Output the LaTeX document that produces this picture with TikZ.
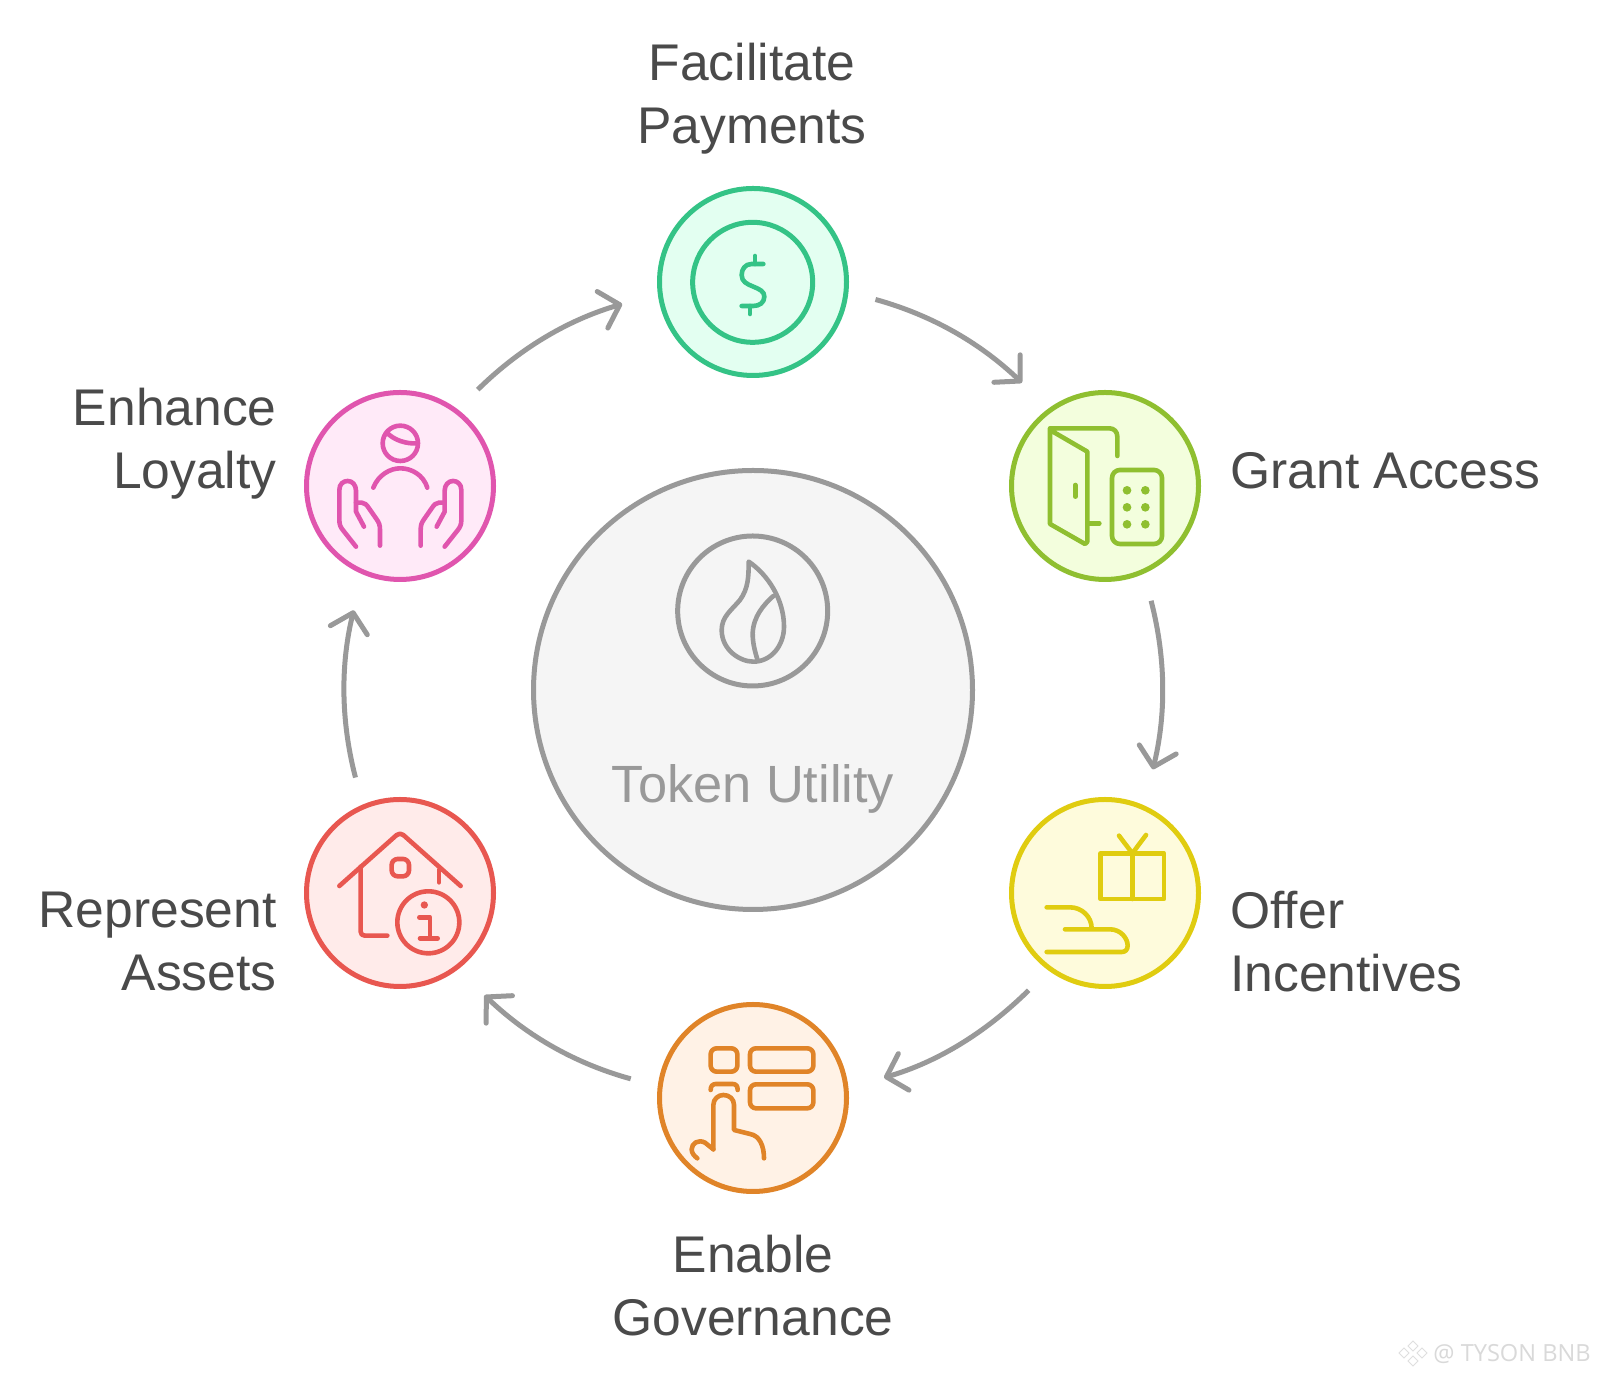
\documentclass[tikz,border=0pt]{standalone}
\usepackage{fontspec}
\setmainfont{Liberation Sans}
\newfontfamily\wmfont{Open Sans}
\usetikzlibrary{arrows.meta}
\definecolor{gS}{HTML}{34C386}\definecolor{gF}{HTML}{E3FFF1}
\definecolor{lS}{HTML}{8FBF30}\definecolor{lF}{HTML}{F3FEDD}
\definecolor{yS}{HTML}{E0CC10}\definecolor{yF}{HTML}{FEFBDC}
\definecolor{oS}{HTML}{E08428}\definecolor{oF}{HTML}{FFF2E6}
\definecolor{rS}{HTML}{E85750}\definecolor{rF}{HTML}{FFEBEA}
\definecolor{pS}{HTML}{E055AE}\definecolor{pF}{HTML}{FFEAF8}
\definecolor{hS}{HTML}{999999}\definecolor{hF}{HTML}{F5F5F5}
\definecolor{txt}{HTML}{4A4A4A}
\tikzset{
  unit/.style={x=0.5pt,y=0.5pt},
  stage/.style={circle,draw=#1S,fill=#1F,line width=2.5pt,minimum size=93.5pt,inner sep=0pt},
  hubnode/.style={circle,draw=hS,fill=hF,line width=2.5pt,minimum size=219.5pt,inner sep=0pt},
  flow/.style={draw=hS,line width=2.5pt,-{Straight Barb[length=9pt,width=19pt,round]},looseness=1,shorten <=14pt,shorten >=18.5pt},
  lab/.style={text=txt,font=\fontsize{25.8}{31.5}\selectfont,inner sep=0pt},
  icon/.style={draw=#1,line width=2.3pt,line cap=round,line join=round},
}
\begin{document}
\begin{tikzpicture}[unit]
\useasboundingbox (0,0) rectangle (1600,1380);
\fill[white] (0,0) rectangle (1600,1380);

% hub and stages
\node[hubnode] (hub) at (753,690) {};
\node[stage=g] (facil) at (753,1098) {};
\node[stage=l] (grant) at (1105,894) {};
\node[stage=y] (offer) at (1105,487) {};
\node[stage=o] (enable) at (753,282) {};
\node[stage=r] (repr) at (400,487) {};
\node[stage=p] (enh) at (400,894) {};

% connectors
\draw[flow] (facil.-6.75) to[out=-15.45,in=136.25] (grant.126.75);
\draw[flow] (grant.-66.75) to[out=-75.45,in=76.25] (offer.66.75);
\draw[flow] (offer.-126.75) to[out=-135.45,in=16.25] (enable.6.75);
\draw[flow] (enable.173.25) to[out=164.55,in=-43.75] (repr.-53.25);
\draw[flow] (repr.113.25) to[out=104.55,in=-103.75] (enh.-113.25);
\draw[flow] (enh.53.25) to[out=44.55,in=-163.75] (facil.-173.25);

% labels
\node[lab,align=center] (lfacil) at (752,1281) {Facilitate\\Payments};
\node[lab,align=left,anchor=west] (lgrant) at (1230,909) {Grant Access};
\node[lab,align=left,anchor=west] (loffer) at (1230,438) {Offer\\Incentives};
\node[lab,align=center] (lenable) at (753,94) {Enable\\Governance};
\node[lab,align=right,anchor=east] (lrepr) at (277,438) {Represent\\Assets};
\node[lab,align=right,anchor=east] (lenh) at (277,936) {Enhance\\Loyalty};
\node[lab,text=hS,font=\fontsize{26.2}{31.5}\selectfont] (lhub) at (753,591) {Token Utility};

% hub icon
\begin{scope}[shift={(640,870)},xscale=1/3,yscale=-1/3]
  \draw[icon=hS,line width=2.5pt] (338,303) circle[radius=225];
  \draw[icon=hS] (326,155) .. controls (326,200) and (325,235) .. (300,270)
    .. controls (275,300) and (245,320) .. (245,360)
    .. controls (245,420) and (300,455) .. (340,455)
    .. controls (395,455) and (432,405) .. (432,350)
    .. controls (432,270) and (385,195) .. (326,155) -- cycle;
  \draw[icon=hS] (400,258) .. controls (370,285) and (340,320) .. (338,370)
    .. controls (338,400) and (345,425) .. (352,448);
\end{scope}

% dollar icon
\begin{scope}[shift={(640,1210)},xscale=1/3,yscale=-1/3]
  \draw[icon=gS,line width=2.5pt] (338,337) circle[radius=180];
  \draw[icon=gS] (370,282) -- (335,282) .. controls (315,282) and (305,298) .. (305,315)
    .. controls (305,335) and (320,342) .. (340,350)
    .. controls (360,358) and (373,365) .. (373,380)
    .. controls (373,398) and (358,408) .. (340,408) -- (305,408);
  \draw[icon=gS] (345,258) -- (345,282) (330,408) -- (330,432);
\end{scope}

% door icon
\begin{scope}[shift={(1000,1000)},xscale=1/3,yscale=-1/3]
  \draw[icon=lS] (352,228) -- (352,170) .. controls (352,155) and (342,145) .. (328,145) -- (150,145)
    -- (150,432) -- (255,492) -- (262,485) -- (262,215) -- (150,150);
  \draw[icon=lS] (268,430) -- (298,430) (226,315) -- (226,350);
  \draw[icon=lS,rounded corners=4pt] (336,270) rectangle (486,492);
  \foreach \px in {381,436}\foreach \py in {331,382,433}
    \fill[lS] (\px,\py) circle[radius=13];
\end{scope}

% gift icon
\begin{scope}[shift={(1000,595)},xscale=1/3,yscale=-1/3]
  \draw[icon=yS] (302,205) rectangle (492,342);
  \draw[icon=yS] (397,205) -- (397,342);
  \draw[icon=yS] (357,152) -- (397,205) -- (438,150);
  \draw[icon=yS] (140,367) -- (210,367) .. controls (245,367) and (275,395) .. (275,430);
  \draw[icon=yS] (195,433) -- (330,433) .. controls (362,433) and (383,460) .. (383,482)
    .. controls (383,495) and (375,501) .. (365,501) -- (140,501);
\end{scope}

% governance icon
\begin{scope}[shift={(640,390)},xscale=1/3,yscale=-1/3]
  \draw[icon=oS,rounded corners=3pt] (212,175) rectangle (292,245);
  \draw[icon=oS,rounded corners=3pt] (330,175) rectangle (520,245);
  \draw[icon=oS,rounded corners=3pt] (330,283) rectangle (520,355);
  \draw[icon=oS] (212,300) .. controls (212,288) and (218,282) .. (228,282) -- (278,282)
    .. controls (288,282) and (293,288) .. (293,300);
  \draw[icon=oS] (220,478) -- (220,345) .. controls (220,327) and (235,315) .. (250,315)
    .. controls (268,315) and (282,327) .. (282,345) -- (282,420) -- (330,432)
    .. controls (360,437) and (372,470) .. (372,505);
  \draw[icon=oS] (220,478) -- (195,458) .. controls (175,447) and (155,460) .. (155,478)
    .. controls (155,490) and (163,498) .. (172,505);
\end{scope}

% house icon
\begin{scope}[shift={(295,595)},xscale=1/3,yscale=-1/3]
  \draw[icon=rS] (133,303) -- (305,150) .. controls (311,145) and (319,145) .. (325,150) -- (497,303);
  \draw[icon=rS] (197,245) -- (197,440) .. controls (197,448) and (202,452) .. (210,452) -- (277,452);
  \draw[icon=rS,rounded corners=3pt] (290,222) rectangle (342,274);
  \draw[icon=rS] (432,255) -- (432,292);
  \draw[icon=rS] (400,412) circle[radius=93];
  \fill[rS] (388,360) circle[radius=11];
  \draw[icon=rS] (373,397) -- (405,397) -- (405,460) (375,460) -- (428,460);
\end{scope}

% loyalty icon
\begin{scope}[shift={(295,1000)},xscale=1/3,yscale=-1/3]
  \draw[icon=pS] (316,190) circle[radius=53];
  \draw[icon=pS] (275,157) .. controls (295,180) and (335,193) .. (368,190);
  \draw[icon=pS] (235,323) .. controls (250,285) and (285,265) .. (316,265)
    .. controls (350,265) and (385,285) .. (397,323);
  \foreach \m/\o in {1/0,-1/632}{
    \begin{scope}[shift={(\o,0)},xscale=\m]
      \draw[icon=pS] (183,500) -- (145,452) .. controls (137,442) and (133,435) .. (133,420) -- (133,330)
        .. controls (133,312) and (145,303) .. (158,303)
        .. controls (172,303) and (183,315) .. (183,332) -- (183,395) -- (207,440);
      \draw[icon=pS] (183,368) -- (200,368) .. controls (210,368) and (215,375) .. (222,385)
        -- (245,418) .. controls (252,428) and (255,435) .. (255,450) -- (255,497);
    \end{scope}
  }
\end{scope}

% watermark
\begin{scope}[shift={(1413,25)}]
  \foreach \dx/\dy in {0/9,0/-6,-9/2,9/2}
    \draw[gray!25,line width=.5pt] (\dx-5,\dy) -- (\dx,\dy+5) -- (\dx+5,\dy) -- (\dx,\dy-5) -- cycle;
\end{scope}
\node[text=gray!30,font=\wmfont\fontsize{11.8}{12}\selectfont,anchor=west,inner sep=0pt] (wm) at (1433,26) {@ TYSON BNB};
\end{tikzpicture}
\end{document}
